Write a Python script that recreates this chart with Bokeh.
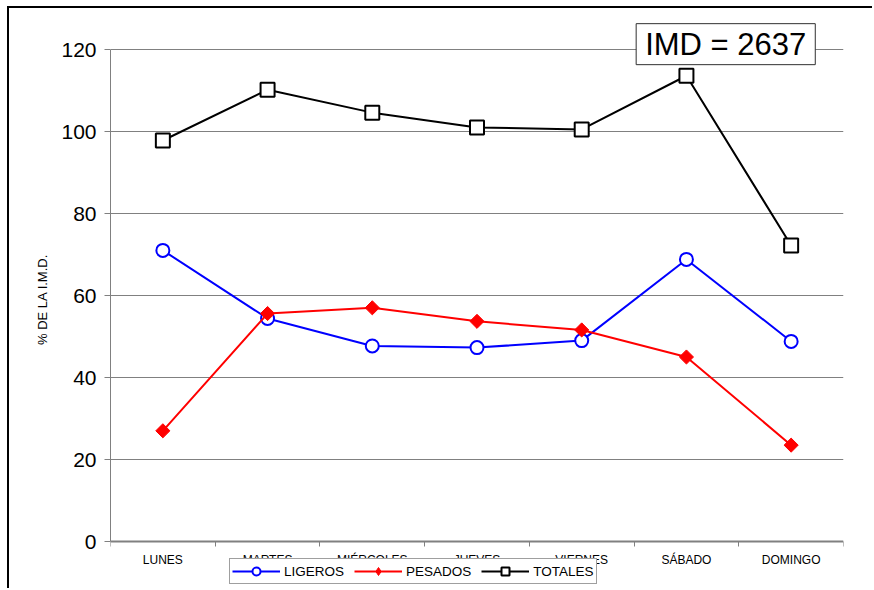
from bokeh.plotting import figure
from bokeh.models import Range1d, FixedTicker, Legend, LegendItem, Label
from bokeh.embed import file_html
from bokeh.resources import INLINE
import math

dias = ["LUNES", "MARTES", "MIÉRCOLES", "JUEVES", "VIERNES", "SÁBADO", "DOMINGO"]
ligeros = [71.0, 54.4, 47.7, 47.3, 49.0, 68.8, 48.8]
pesados = [27.0, 55.6, 57.0, 53.7, 51.6, 45.0, 23.5]
totales = [97.8, 110.2, 104.6, 101.0, 100.5, 113.6, 72.2]
y_ticks = [0, 20, 40, 60, 80, 100, 120]
imd_text = "IMD = 2637"

FONT = "Liberation Sans"
GREY = "#808080"

xs = [i + 0.5 for i in range(len(dias))]

W, H = 865, 582
p = figure(width=W, height=H, x_range=Range1d(0, len(dias)), y_range=Range1d(-11.95, 130.0),
           output_backend="svg", toolbar_location=None,
           min_border_left=101, min_border_top=0, min_border_right=31,
           min_border_bottom=0)
p.styles = {"border-left": "2px solid black", "border-top": "2px solid black",
            "margin-left": "7px", "margin-top": "6px"}
p.outline_line_color = None
p.background_fill_color = "white"
p.border_fill_color = "white"

p.xgrid.visible = False
p.ygrid.ticker = FixedTicker(ticks=y_ticks[1:])
p.ygrid.grid_line_color = GREY
p.ygrid.grid_line_width = 1

# y axis
p.yaxis.ticker = FixedTicker(ticks=y_ticks)
p.yaxis.bounds = (y_ticks[0], y_ticks[-1])
p.yaxis.axis_line_color = GREY
p.yaxis.major_tick_line_color = GREY
p.yaxis.major_tick_out = 6
p.yaxis.major_tick_in = 0
p.yaxis.minor_tick_line_color = None
p.yaxis.major_label_text_font = FONT
p.yaxis.major_label_text_font_size = "21px"
p.yaxis.major_label_text_color = "black"
p.yaxis.major_label_standoff = 8
p.yaxis.axis_label = "% DE LA I.M.D."
p.yaxis.axis_label_text_font = FONT
p.yaxis.axis_label_text_font_size = "13px"
p.yaxis.axis_label_text_font_style = "normal"
p.yaxis.axis_label_text_color = "black"
p.yaxis.axis_label_standoff = 8

# x axis (drawn at y = 0 inside the frame)
p.xaxis.fixed_location = 0
p.xaxis.ticker = FixedTicker(ticks=xs, minor_ticks=list(range(len(dias) + 1)))
p.xaxis.major_label_overrides = {x: d for x, d in zip(xs, dias)}
p.xaxis.axis_line_color = GREY
p.xaxis.axis_line_width = 2
p.xaxis.major_tick_line_color = None
p.xaxis.major_tick_out = 0
p.xaxis.major_tick_in = 0
p.xaxis.minor_tick_line_color = GREY
p.xaxis.minor_tick_out = 5
p.xaxis.minor_tick_in = 0
p.xaxis.major_label_text_font = FONT
p.xaxis.major_label_text_font_size = "12px"
p.xaxis.major_label_text_color = "black"
p.xaxis.major_label_standoff = 6

# series
l1 = p.line(xs, ligeros, line_color="#0000FF", line_width=2)
m1 = p.scatter(xs, ligeros, marker="circle", size=13, line_color="#0000FF",
               line_width=2, fill_color="white")
l2 = p.line(xs, pesados, line_color="#FF0000", line_width=2)
m2 = p.scatter(xs, pesados, marker="square", angle=math.pi / 4, size=10,
               line_color="#FF0000", line_width=1, fill_color="#FF0000")
# legend-only diamond (same data, not drawn on the plot)
m2_leg = p.scatter(xs, pesados, marker="diamond", size=14, line_color="#FF0000",
                   line_width=1, fill_color="#FF0000", visible=False)
l3 = p.line(xs, totales, line_color="black", line_width=2)
m3 = p.scatter(xs, totales, marker="square", size=14, line_color="black",
               line_width=2, fill_color="white")

legend = Legend(items=[LegendItem(label="LIGEROS", renderers=[l1, m1]),
                       LegendItem(label="PESADOS", renderers=[l2, m2_leg]),
                       LegendItem(label="TOTALES", renderers=[l3, m3])],
                location=(119, 6), orientation="horizontal",
                label_text_font=FONT, label_text_font_size="13.5px",
                label_text_color="black", label_standoff=4,
                glyph_width=48, glyph_height=20, spacing=10, padding=2, margin=0,
                border_line_color="#404040", border_line_width=1,
                background_fill_color="white", background_fill_alpha=1,
                label_height=16)
p.add_layout(legend, "center")

lab = Label(x=5.02, y=126.3, text=imd_text, text_font=FONT, text_font_size="31px",
            text_color="black", text_align="left", text_baseline="top",
            padding=(9, 3), border_line_color="#303030", border_line_width=1,
            background_fill_color="white", background_fill_alpha=1)
p.add_layout(lab)

open("out.html", "w").write(file_html(p, INLINE))
